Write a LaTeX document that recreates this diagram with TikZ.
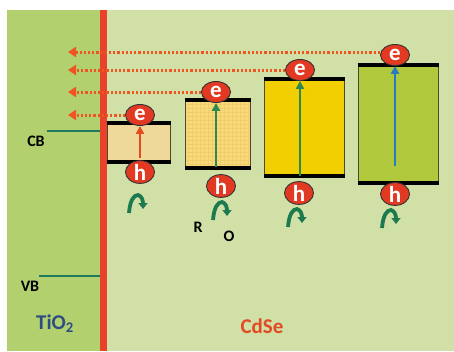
\documentclass[tikz,border=0pt]{standalone}
\usepackage{fontspec}
\setmainfont{Carlito}
\usetikzlibrary{arrows.meta,shapes.geometric}
\definecolor{tiogreen}{HTML}{B2D16E}
\definecolor{cdsgreen}{HTML}{D1E0A6}
\definecolor{barred}{HTML}{E8432A}
\definecolor{dotred}{HTML}{EE5522}
\definecolor{bubred}{HTML}{E23A22}
\definecolor{curlgreen}{HTML}{1D7A4F}
\definecolor{arrgreen}{HTML}{2A8A50}
\definecolor{arrblue}{HTML}{2A7AC0}
\definecolor{arrorange}{HTML}{E84A20}
\definecolor{boxa}{HTML}{EFD99A}
\definecolor{boxb}{HTML}{F9DA7A}
\definecolor{boxgrid}{HTML}{F0CC6A}
\definecolor{boxc}{HTML}{F2CF00}
\definecolor{boxd}{HTML}{AFC83C}
\definecolor{tiotext}{HTML}{2D4D80}
\definecolor{cdstext}{HTML}{E04A24}
\definecolor{bandline}{HTML}{1E7A5A}
\tikzset{
  bub/.style={ellipse, draw=black!80, line width=0.9pt, fill=bubred, text=white,
    font=\bfseries\fontsize{23}{23}\selectfont, minimum width=29pt, minimum height=21pt, inner sep=0pt},
  qbox/.style={draw=black!60!olive, line width=0.9pt, inner sep=0pt, anchor=north west},
  edge/.style={line width=3.2pt, black},
  dotline/.style={dotred, line width=3pt, dash pattern=on 2.2pt off 2pt, -{Triangle[length=8pt,width=10pt]}},
  uparr/.style={line width=2.6pt, -{Triangle[length=8pt,width=8pt]}},
  band/.style={bandline, line width=2pt},
  lbl/.style={font=\bfseries\fontsize{16}{16}\selectfont, inner sep=0pt},
  curl/.pic={\draw[curlgreen, line width=3.8pt, -{Triangle[length=6pt,width=9pt]}]
     (-8,10) .. controls (-7,-3) and (-3,-8) .. (1,-8) .. controls (5,-7) and (6,-2) .. (6,6);}
}
\begin{document}
\begin{tikzpicture}[x=1pt,y=-1pt]
\useasboundingbox (0,0) rectangle (454,351);
\fill[white] (0,0) rectangle (454,351);
\fill[tiogreen] (7,10) rectangle (101,351);
\fill[cdsgreen] (106,10) rectangle (454,351);
\fill[barred] (100,10) rectangle (107,351);

% TiO2 bands
\coordinate (cbr) at (100,131);
\coordinate (vbr) at (100,276);
\node[lbl] (cb) at (36,141) {CB};
\node[lbl] (vb) at (30,286) {VB};
\draw[band] (47,131) -- (cbr);
\draw[band] (39,276) -- (vbr);

% boxes
\node[qbox, fill=boxa, minimum width=63pt, minimum height=38pt] (b1) at (107,123) {};
\node[qbox, fill=boxb, minimum width=65pt, minimum height=67pt] (b2) at (185,100) {};
\begin{scope}
\clip (185,100) rectangle (250,167);
\draw[boxgrid, line width=0.3pt, step=4pt] (185,100) grid (250,167);
\end{scope}
\draw[black!60!olive, line width=0.9pt] (b2.north west) rectangle (b2.south east);
\node[qbox, fill=boxc, minimum width=80pt, minimum height=96pt] (b3) at (264,79) {};
\node[qbox, fill=boxd, minimum width=80pt, minimum height=117pt] (b4) at (358,65) {};
\foreach \b in {b1,b2,b3,b4}{
  \draw[edge] ([xshift=-0.5pt]\b.north west) -- ([xshift=0.5pt]\b.north east);
  \draw[edge] ([xshift=-0.5pt]\b.south west) -- ([xshift=0.5pt]\b.south east);
}

% electrons and holes
\node[bub] (e1) at (140,115) {e};
\node[bub] (e2) at (216,92) {e};
\node[bub] (e3) at (300,70) {e};
\node[bub] (e4) at (395,55) {e};
\node[bub] (h1) at (140,172) {h};
\node[bub] (h2) at (221,186) {h};
\node[bub] (h3) at (299,193) {h};
\node[bub] (h4) at (395,194) {h};

% transitions
\draw[uparr, arrorange] ([yshift=4pt]e1 |- b1.south) -- (e1.south);
\draw[uparr, arrgreen] ([yshift=1pt]e2 |- b2.south) -- (e2.south);
\draw[uparr, arrgreen] ([yshift=0pt]e3 |- b3.south) -- (e3.south);
\draw[uparr, arrblue] ([yshift=17pt]e4 |- b4.south) -- (e4.south);

% injection
\coordinate (tx) at (68,0);
\draw[dotline] (e1.west) -- (e1.west -| tx);
\draw[dotline] (e2.west) -- (e2.west -| tx);
\draw[dotline] (e3.west) -- (e3.west -| tx);
\draw[dotline] ([yshift=3pt]e4.west) -- ([yshift=3pt]e4.west -| tx);

% curls
\pic at (137,203) {curl};
\pic at (221,210) {curl};
\pic at (296,217) {curl};
\pic at (390,218) {curl};
\node[lbl] (r) at (198,227) {R};
\node[lbl] (o) at (229,236) {O};

% labels
\node[text=tiotext, font=\bfseries\fontsize{21}{21}\selectfont, inner sep=0pt] (tio) at (55,324) {TiO\textsubscript{2}};
\node[text=cdstext, font=\bfseries\fontsize{21}{21}\selectfont, inner sep=0pt] (cds) at (262,326) {CdSe};
\end{tikzpicture}
\end{document}
